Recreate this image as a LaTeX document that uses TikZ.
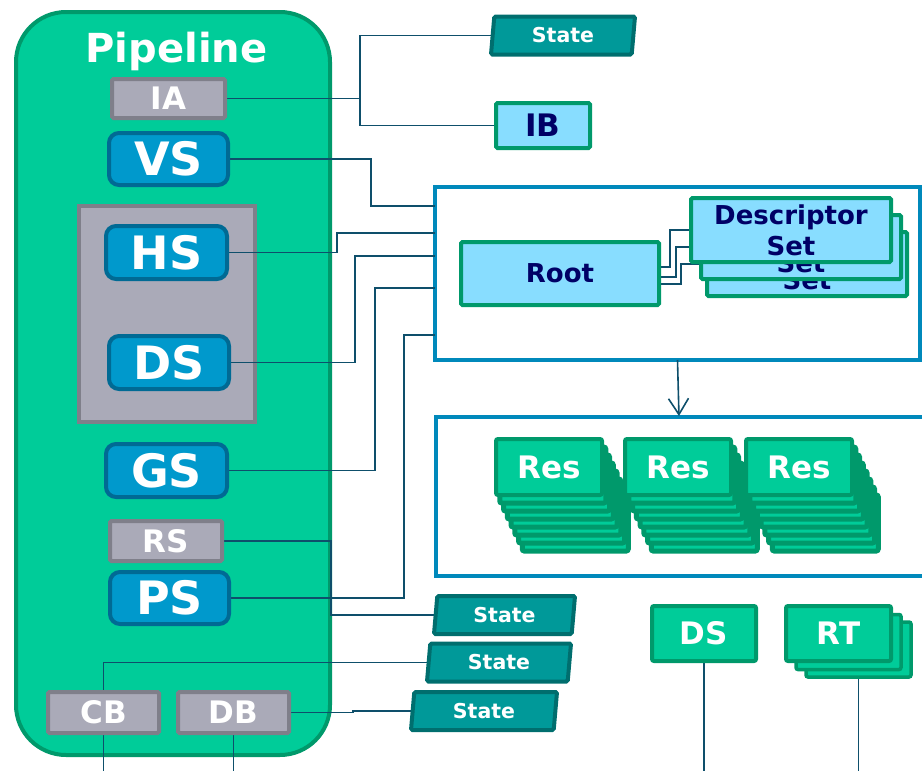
\documentclass[tikz,border=0pt]{standalone}
\usepackage{fontspec}
\setmainfont{DejaVu Sans}
\usetikzlibrary{shapes.geometric,arrows.meta}

\definecolor{pipegreen}{HTML}{00CC99}
\definecolor{pipeedge}{HTML}{00996B}
\definecolor{grayfill}{HTML}{AAAAB8}
\definecolor{grayedge}{HTML}{7F7F8A}
\definecolor{stageblue}{HTML}{0099CC}
\definecolor{stageedge}{HTML}{006A94}
\definecolor{wirecol}{HTML}{0E4F6B}
\definecolor{frameblue}{HTML}{0089BB}
\definecolor{paleblue}{HTML}{88DDFF}
\definecolor{navy}{HTML}{000066}
\definecolor{statefill}{HTML}{009999}
\definecolor{stateedge}{HTML}{006E6E}

\pgfdeclarelayer{back}
\pgfdeclarelayer{mid}
\pgfsetlayers{back,mid,main}

\tikzset{
  box/.style={rectangle, inner sep=0pt, outer sep=0pt},
  pipe/.style={box, fill=pipegreen, draw=pipeedge, line width=4pt, rounded corners=50pt},
  stage/.style={box, fill=stageblue, draw=stageedge, line width=4pt, rounded corners=10pt,
    text=white, font=\bfseries\fontsize{46}{50}\selectfont},
  fixedfn/.style={box, fill=grayfill, draw=grayedge, line width=4pt, rounded corners=1.5pt,
    text=white, font=\bfseries\fontsize{31}{36}\selectfont},
  group/.style={box, fill=grayfill, draw=grayedge, line width=4pt},
  pale/.style={box, fill=paleblue, draw=pipeedge, line width=4pt, rounded corners=1.5pt,
    text=navy, font=\bfseries\fontsize{26}{31}\selectfont},
  res/.style={box, fill=pipegreen, draw=pipeedge, line width=4pt, rounded corners=2pt,
    text=white, font=\bfseries\fontsize{31}{36}\selectfont},
  resback/.style={box, fill=pipegreen, draw=pipeedge, line width=5pt, rounded corners=2pt},
  statebox/.style={trapezium, trapezium left angle=78, trapezium right angle=102,
    trapezium stretches body, inner sep=0pt, outer sep=0pt, fill=statefill,
    draw=stateedge, line width=4pt, rounded corners=1.5pt, text=white,
    font=\bfseries\fontsize{20.5}{24}\selectfont, minimum height=38pt, minimum width=143pt},
  frame/.style={box, draw=frameblue, line width=4pt},
  wire/.style={draw=wirecol, line width=1.6pt},
}

\begin{document}
\begin{tikzpicture}[x=1pt, y=-1pt]
\useasboundingbox (0,0) rectangle (922,771);

% ---------- containers ----------
\begin{pgfonlayer}{back}
  \node[pipe, minimum width=314pt, minimum height=743pt] (pipe) at (173,383.5) {};
  \node[group, minimum width=176pt, minimum height=216pt] (tess) at (167,314) {};
  \node[frame, fill=white, minimum width=485pt, minimum height=173pt] (box1) at (677.5,273.5) {};
  \node[box, minimum width=486pt, minimum height=159pt] (box2) at (679,496.5) {};
  \draw[draw=frameblue, line width=4pt]
    (box2.north east) -- (box2.north west) -- (box2.south west) -- (box2.south east);
\end{pgfonlayer}

% ---------- pipeline stages ----------
\node[text=white, font=\bfseries\fontsize{40}{44}\selectfont, anchor=base] (title) at (176.5,62) {Pipeline};
\node[fixedfn, minimum width=113pt, minimum height=39pt] (ia) at (168.5,98.5) {IA};
\node[stage, minimum width=119pt, minimum height=52pt] (vs) at (168.5,159) {VS};
\node[stage, minimum width=121pt, minimum height=53pt] (hs) at (166.5,252.5) {HS};
\node[stage, minimum width=120pt, minimum height=53pt] (ds) at (169,362.5) {DS};
\node[stage, minimum width=121pt, minimum height=53pt] (gs) at (166.5,470.5) {GS};
\node[fixedfn, minimum width=112pt, minimum height=40pt] (rs) at (166,541) {RS};
\node[stage, minimum width=119pt, minimum height=52pt] (ps) at (169.5,598) {PS};
\node[fixedfn, minimum width=111pt, minimum height=41pt] (cb) at (103.5,712.5) {CB};
\node[fixedfn, minimum width=111pt, minimum height=41pt] (db) at (233.5,712.5) {DB};

% ---------- state objects and input buffer ----------
\node[statebox, minimum width=144pt] (sttop) at (563,35.5) {State};
\node[pale, minimum width=94pt, minimum height=45pt, font=\bfseries\fontsize{31}{36}\selectfont] (ib) at (543,125.5) {IB};
\node[statebox, minimum width=141pt] (st1) at (504.5,615) {State};
\node[statebox, minimum width=144pt] (st2) at (499,662.5) {State};
\node[statebox, minimum width=146pt] (st3) at (484,711) {State};

% ---------- root signature and descriptor sets ----------
\node[pale, minimum width=198pt, minimum height=63pt] (root) at (560,273.5) {Root};
\node[pale, minimum width=200pt, minimum height=64pt, align=center] (dset3) at (807,264) {Descriptor\\Set};
\node[pale, minimum width=200pt, minimum height=64pt, align=center] (dset2) at (801,247) {Descriptor\\Set};
\node[pale, minimum width=200pt, minimum height=64pt, align=center] (dset1) at (791,230) {Descriptor\\Set};

% ---------- resource stacks ----------
\foreach \i/\cx in {1/549, 2/678, 3/799} {
  \foreach \k in {7,6,5,4,3,2,1} {
    \node[resback, minimum width=106pt, minimum height=56pt] (res\i l\k) at (\cx+3.75*\k, 467+8*\k) {};
  }
  \node[res, minimum width=106pt, minimum height=56pt] (res\i) at (\cx,467) {Res};
}

% ---------- output merger targets ----------
\node[res, minimum width=104pt, minimum height=55pt] (dsg) at (704,633.5) {DS};
\node[res, line width=3.5pt, minimum width=105pt, minimum height=55pt] (rt3) at (858.5,649.5) {};
\node[res, line width=3.5pt, minimum width=105pt, minimum height=55pt] (rt2) at (848.5,642) {};
\node[res, minimum width=105pt, minimum height=55pt] (rt) at (838.5,633.5) {RT};

% ---------- connectors ----------
\begin{pgfonlayer}{mid}
  \draw[wire] (ia.east) -- ++(135,0) coordinate (iasplit) |- (sttop.west);
  \draw[wire] (iasplit) |- (ib.west);

  \draw[wire] (vs.east) -- ++(143,0) |- ([yshift=-19pt]box1.north west);
  \draw[wire] (hs.east) -- ++(110,0) |- ([yshift=-46pt]box1.north west);
  \draw[wire] (ds.east) -- ++(126,0) |- ([yshift=-69pt]box1.north west);
  \draw[wire] (gs.east) -- ++(148,0) |- ([yshift=-101pt]box1.north west);
  \draw[wire] (ps.east) -- ++(175,0) |- ([yshift=-148pt]box1.north west);

  \draw[wire] ([yshift=6.5pt]root.east) -- ++(11,0) |- (dset1.west);
  \draw[wire] ([yshift=-3.5pt]root.east) -- ++(17,0) |- (dset2.west);
  \draw[wire] ([yshift=-10.5pt]root.east) -- ++(22,0) |- (dset3.west);

  \draw[wire, -{Straight Barb[length=16pt,width=20pt]}, shorten >=1pt] (box1.south) -- (box2.north);

  \draw[wire] (rs.east) -- ++(109,0) |- (st1.west);
  \draw[wire] (cb.north) |- (st2.west);
  \draw[wire] (db.east) -- ++(64,0) |- (st3.west);

  \draw[wire] (cb.south) -- ++(0,40);
  \draw[wire] (db.south) -- ++(0,40);
  \draw[wire] (dsg.south) -- ++(0,110);
  \draw[wire] (rt3.south) -- ++(0,95);
\end{pgfonlayer}
\end{tikzpicture}
\end{document}
